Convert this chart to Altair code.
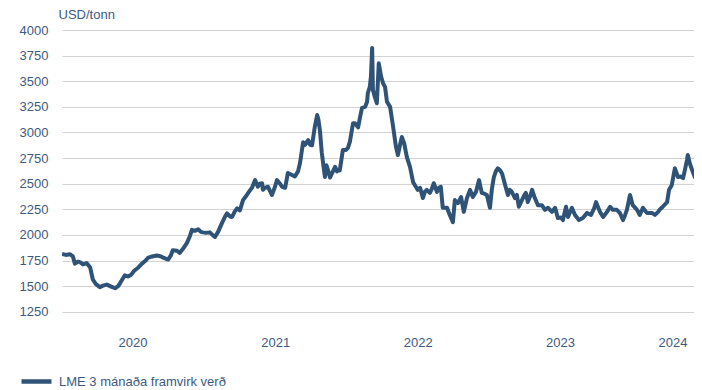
import altair as alt
import pandas as pd

series_name = "LME 3 mánaða framvirk verð"

dates = [
    "2020-01-01", "2020-01-11", "2020-01-21", "2020-01-29", "2020-02-03", "2020-02-11", "2020-02-16",
    "2020-02-24", "2020-03-04", "2020-03-13", "2020-03-20", "2020-03-28", "2020-04-07", "2020-04-15",
    "2020-04-25", "2020-05-06", "2020-05-16", "2020-05-24", "2020-05-29", "2020-06-05", "2020-06-10",
    "2020-06-18", "2020-06-26", "2020-07-04", "2020-07-14", "2020-07-24", "2020-08-01", "2020-08-08",
    "2020-08-19", "2020-08-31", "2020-09-11", "2020-09-18", "2020-09-29", "2020-10-06", "2020-10-11",
    "2020-10-22", "2020-10-29", "2020-11-09", "2020-11-16", "2020-11-24", "2020-11-29", "2020-12-07",
    "2020-12-15", "2020-12-22", "2020-12-27",
    "2021-01-04", "2021-01-14", "2021-01-22", "2021-01-27", "2021-02-04", "2021-02-14", "2021-02-22",
    "2021-02-27", "2021-03-07", "2021-03-12", "2021-03-19", "2021-03-25", "2021-04-01", "2021-04-09",
    "2021-04-17", "2021-04-24", "2021-05-02", "2021-05-10", "2021-05-17", "2021-05-22", "2021-05-28",
    "2021-05-30", "2021-06-04", "2021-06-12", "2021-06-17", "2021-06-22", "2021-06-30", "2021-07-05",
    "2021-07-13", "2021-07-18", "2021-07-26", "2021-08-02", "2021-08-10", "2021-08-20", "2021-08-28",
    "2021-09-02", "2021-09-10", "2021-09-15", "2021-09-23", "2021-09-28", "2021-10-03", "2021-10-10",
    "2021-10-16", "2021-10-19", "2021-10-23", "2021-10-28", "2021-10-31", "2021-11-05", "2021-11-09",
    "2021-11-13", "2021-11-18", "2021-11-23", "2021-12-01", "2021-12-06", "2021-12-08", "2021-12-13",
    "2021-12-21", "2021-12-29",
    "2022-01-03", "2022-01-08", "2022-01-16", "2022-01-21", "2022-01-29", "2022-02-03", "2022-02-08",
    "2022-02-16", "2022-02-21", "2022-02-23", "2022-02-28", "2022-03-03", "2022-03-06", "2022-03-08",
    "2022-03-13", "2022-03-18", "2022-03-23", "2022-03-29", "2022-04-03", "2022-04-08", "2022-04-13",
    "2022-04-21", "2022-04-28", "2022-05-06", "2022-05-11", "2022-05-16", "2022-05-21", "2022-05-27",
    "2022-06-03", "2022-06-11", "2022-06-19", "2022-06-26", "2022-07-01", "2022-07-07", "2022-07-14",
    "2022-07-19", "2022-07-24", "2022-08-01", "2022-08-06", "2022-08-11", "2022-08-19", "2022-08-24",
    "2022-08-29", "2022-09-03", "2022-09-14", "2022-09-21", "2022-09-29", "2022-10-04", "2022-10-12",
    "2022-10-20", "2022-10-27", "2022-11-04", "2022-11-12", "2022-11-19", "2022-11-27", "2022-12-05",
    "2022-12-12", "2022-12-20", "2022-12-25",
    "2023-01-02", "2023-01-07", "2023-01-12", "2023-01-17", "2023-01-22", "2023-01-28", "2023-02-02",
    "2023-02-10", "2023-02-17", "2023-02-22", "2023-02-27", "2023-03-07", "2023-03-12", "2023-03-17",
    "2023-03-25", "2023-03-30", "2023-04-04", "2023-04-09", "2023-04-15", "2023-04-20", "2023-04-27",
    "2023-05-05", "2023-05-15", "2023-05-23", "2023-05-31", "2023-06-10", "2023-06-18", "2023-06-25",
    "2023-07-03", "2023-07-08", "2023-07-16", "2023-07-21", "2023-07-26", "2023-07-31", "2023-08-08",
    "2023-08-18", "2023-08-28", "2023-09-08", "2023-09-18", "2023-09-26", "2023-10-01", "2023-10-11",
    "2023-10-19", "2023-10-29", "2023-11-06", "2023-11-13", "2023-11-23", "2023-12-01", "2023-12-09",
    "2023-12-14", "2023-12-19", "2023-12-27",
    "2024-01-03", "2024-01-14", "2024-01-21", "2024-01-29", "2024-02-08", "2024-02-21", "2024-02-29",
    "2024-03-08", "2024-03-13", "2024-03-20", "2024-03-31", "2024-04-05", "2024-04-12", "2024-04-20",
    "2024-04-28", "2024-05-05", "2024-05-11", "2024-05-16", "2024-05-21", "2024-05-23", "2024-05-29",
    "2024-06-03", "2024-06-10", "2024-06-18", "2024-06-23", "2024-06-28",
]

prices = [
    1815, 1805, 1812, 1790, 1720, 1740, 1735,
    1712, 1725, 1685, 1565, 1520, 1490, 1505,
    1515, 1495, 1480, 1500, 1530, 1575, 1605,
    1595, 1610, 1650, 1680, 1720, 1745, 1775,
    1790, 1800, 1790, 1775, 1760, 1800, 1850,
    1845, 1825, 1880, 1920, 1990, 2050, 2040,
    2055, 2030, 2025,
    2020, 2025, 1995, 1980, 2030, 2115, 2180,
    2210, 2180, 2175, 2230, 2260, 2240, 2340,
    2380, 2420, 2460, 2535, 2470, 2500, 2505,
    2440, 2460, 2470, 2430, 2390, 2470, 2535,
    2500, 2470, 2460, 2605, 2590, 2570, 2620,
    2700, 2905, 2880, 2925, 2880, 2875, 3055,
    3170, 3130, 3025, 2800, 2710, 2565, 2680,
    2630, 2560, 2600, 2665, 2620, 2630, 2630,
    2830, 2830,
    2850, 2910, 3090, 3090, 3050, 3150, 3240,
    3250, 3300, 3385, 3445, 3550, 3825, 3415,
    3345, 3285, 3675, 3545, 3480, 3445, 3300,
    3250, 3075, 2860, 2780, 2870, 2955, 2895,
    2760, 2665, 2515, 2470, 2440, 2460, 2360,
    2420, 2440, 2410, 2450, 2505, 2420, 2460,
    2470, 2265, 2265, 2195, 2125, 2340, 2310,
    2370, 2225, 2360, 2440, 2370, 2420, 2535,
    2410, 2400, 2390,
    2265, 2450, 2565, 2620, 2650, 2630, 2600,
    2485, 2390, 2440, 2420, 2360, 2390, 2275,
    2340, 2380, 2410, 2320, 2380, 2440, 2360,
    2290, 2290, 2245, 2265, 2225, 2265, 2165,
    2170, 2145, 2275, 2175, 2220, 2265, 2195,
    2145, 2165, 2215, 2195, 2260, 2320, 2225,
    2175, 2225, 2275, 2245, 2245, 2215, 2145,
    2190, 2245, 2390,
    2290, 2245, 2195, 2265, 2215, 2215, 2195,
    2225, 2250, 2275, 2320, 2440, 2485, 2650,
    2565, 2570, 2555, 2640, 2730, 2780, 2690,
    2635, 2565, 2515, 2505, 2510,
]

y_ticks = [1250, 1500, 1750, 2000, 2250, 2500, 2750, 3000, 3250, 3500, 3750, 4000]
years = [2020, 2021, 2022, 2023, 2024]
year_labels = ["2020", "2021", "2022", "2023", "2024"]
year_label_dates = ["2020-07-01", "2021-07-02", "2022-07-02", "2023-07-02", "2024-04-15"]

LINE_COLOR = "#2f5377"
TEXT_COLOR = "#3d5a7f"
FONT = "Liberation Sans"

df = pd.DataFrame({"date": dates, "price": prices, "series": series_name})
labels_df = pd.DataFrame({"date": year_label_dates, "label": year_labels})

x_scale = alt.Scale(
    type="utc",
    domain=[alt.DateTime(year=2020, month=1, date=1, utc=True),
            alt.DateTime(year=2024, month=6, date=8, utc=True)],
)
year_ticks = [alt.DateTime(year=y, month=1, date=1, utc=True) for y in years]

line = alt.Chart(df).mark_line(strokeWidth=4, strokeJoin="round", clip=True).encode(
    x=alt.X(
        "date:T",
        scale=x_scale,
        axis=alt.Axis(
            values=year_ticks, labels=False, title=None, grid=False,
            ticks=True, tickSize=10, tickWidth=2, tickColor="#404040",
            domainColor="#cccccc", domainWidth=1.5,
        ),
    ),
    y=alt.Y(
        "price:Q",
        scale=alt.Scale(domain=[1160, 4000], nice=False, zero=False),
        axis=alt.Axis(
            values=y_ticks, format="d", title="USD/tonn", titleAngle=0,
            titleAlign="left", titleBaseline="middle", titleX=-4, titleY=-16,
            titleFontWeight="normal", titleFontSize=13, titleColor=TEXT_COLOR, titleFont=FONT,
            grid=True, gridColor="#d3d3d3", gridWidth=1, domain=False, ticks=False,
            labelPadding=14, labelFontSize=13, labelColor=TEXT_COLOR, labelFont=FONT,
        ),
    ),
    color=alt.Color(
        "series:N",
        scale=alt.Scale(range=[LINE_COLOR]),
        legend=alt.Legend(
            orient="none", legendX=-43, legendY=334, title=None,
            symbolType="stroke", symbolStrokeWidth=4.5, symbolSize=900,
            labelFontSize=13, labelColor=TEXT_COLOR, labelFont=FONT, labelOffset=5,
            labelLimit=400,
        ),
    ),
)

year_text = alt.Chart(labels_df).mark_text(
    fontSize=13, color=TEXT_COLOR, font=FONT, baseline="middle", align="center"
).encode(
    x=alt.X("date:T", scale=x_scale, axis=None),
    y=alt.value(313),
    text="label:N",
)

chart = alt.layer(line, year_text).properties(
    width=632,
    height=291,
    autosize=alt.AutoSizeParams(type="none"),
    padding={"left": 54, "top": 22, "right": 0, "bottom": 67},
).configure_view(stroke=None)

chart.save("out.html", embed_options={"renderer": "svg", "actions": False})
